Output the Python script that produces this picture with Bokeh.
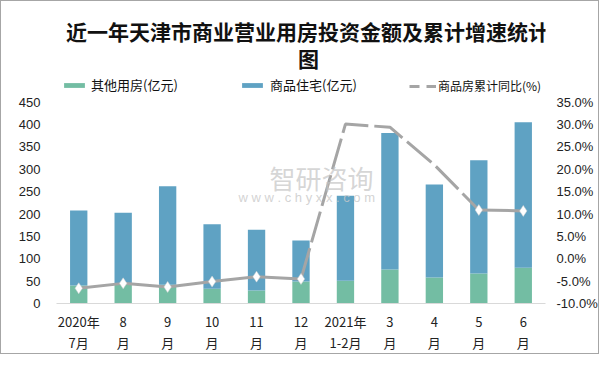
from bokeh.plotting import figure
from bokeh.models import (ColumnDataSource, Range1d, LinearAxis, Label, Legend, LegendItem,
                          PrintfTickFormatter, FixedTicker)
from bokeh.embed import file_html
from bokeh.resources import INLINE

# ---- data ----
categories = ["2020年\n7月", "8\n月", "9\n月", "10\n月", "11\n月", "12\n月",
              "2021年\n1-2月", "3\n月", "4\n月", "5\n月", "6\n月"]
other_use = [40, 45, 42, 33, 29, 49, 51, 76, 58, 67, 80]          # 其他用房(亿元)
housing = [168, 158, 220, 144, 136, 92, 190, 305, 208, 253, 325]  # 商品住宅(亿元)
yoy_pct = [-6.6, -5.5, -6.3, -5.1, -4.0, -4.5, 30.1, 29.4, 21.0, 10.9, 10.7]  # 商品房累计同比(%)
left_ticks = [0, 50, 100, 150, 200, 250, 300, 350, 400, 450]
right_ticks = [-10, -5, 0, 5, 10, 15, 20, 25, 30, 35]

GREEN = "#73BDA3"
BLUE = "#5FA2C3"
GREY = "#A5A5A5"
FONT = "Liberation Sans"
CJK = "Noto Sans CJK SC"

# frame spans from the canvas top to the x axis so that title/legend live inside it
FRAME_H = 303          # px, canvas top to x axis
AXIS_SPAN = 202        # px between lowest and highest tick
left_top = left_ticks[0] + (left_ticks[-1] - left_ticks[0]) * FRAME_H / AXIS_SPAN
right_top = right_ticks[0] + (right_ticks[-1] - right_ticks[0]) * FRAME_H / AXIS_SPAN

xs = list(range(len(categories)))
src = ColumnDataSource(dict(x=xs, other=other_use, housing=housing, pct=yoy_pct))

p = figure(width=599, height=354, output_backend="svg", toolbar_location=None,
           x_range=Range1d(-0.5, len(categories) - 0.5),
           y_range=Range1d(left_ticks[0], left_top),
           min_border_left=55, min_border_right=40, min_border_top=0, min_border_bottom=51)
p.extra_y_ranges = {"pct": Range1d(right_ticks[0], right_top)}
p.styles = {"border": "1px solid #a6a6a6"}
p.background_fill_color = "white"
p.border_fill_color = "white"
p.outline_line_color = None
p.xgrid.grid_line_color = None
p.ygrid.grid_line_color = None

bars = p.vbar_stack(["other", "housing"], x="x", width=0.39, source=src,
                    color=[GREEN, BLUE], line_color=None)

def sub(idx):
    return ColumnDataSource(dict(x=[xs[i] for i in idx], pct=[yoy_pct[i] for i in idx]))

p.line("x", "pct", source=sub(range(0, 6)), y_range_name="pct", line_color=GREY, line_width=3)
p.line("x", "pct", source=sub(range(5, 10)), y_range_name="pct", line_color=GREY, line_width=3,
       line_dash="32 6")
p.line("x", "pct", source=sub(range(9, 11)), y_range_name="pct", line_color=GREY, line_width=3)
mk = [0, 1, 2, 3, 4, 5, 9, 10]
p.scatter("x", "pct", source=sub(mk), y_range_name="pct", marker="diamond", size=11,
          fill_color="white", line_color="#d0d0d0", line_width=0.5)
# one-point line: draws nothing in the plot, only provides the dashed legend glyph
legend_line = p.line("x", "pct", source=sub([5]), y_range_name="pct",
                     line_color=GREY, line_width=3, line_dash="10 7")

# axes
p.yaxis.ticker = FixedTicker(ticks=left_ticks)
ax_r = LinearAxis(y_range_name="pct", ticker=FixedTicker(ticks=right_ticks),
                  formatter=PrintfTickFormatter(format="%.1f%%"))
p.add_layout(ax_r, "right")
for ax in (p.yaxis[0], ax_r, p.xaxis[0]):
    ax.major_tick_line_color = None
    ax.minor_tick_line_color = None
    ax.major_tick_out = 0
    ax.major_tick_in = 0
    ax.minor_tick_out = 0
    ax.minor_tick_in = 0
for ax in (p.yaxis[0], ax_r):
    ax.axis_line_color = None
    ax.major_label_text_font = FONT
    ax.major_label_text_font_size = "13px"
    ax.major_label_text_color = "#222222"
p.yaxis[0].major_label_standoff = 16
ax_r.major_label_standoff = 11

p.xaxis.ticker = FixedTicker(ticks=xs)
p.xaxis.major_label_overrides = {i: c for i, c in zip(xs, categories)}
p.xaxis.axis_line_color = "#d9d9d9"
p.xaxis.major_label_text_font = CJK
p.xaxis.major_label_text_font_size = "13px"
p.xaxis.major_label_text_color = "#222222"
p.xaxis.major_label_text_line_height = 1.15
p.xaxis.major_label_standoff = 8

# title
p.add_layout(Label(x=251, y=273, x_units="screen", y_units="screen",
                   text="近一年天津市商业营业用房投资金额及累计增速统计",
                   text_font=CJK, text_font_size="21px", text_font_style="bold",
                   text_align="center", text_baseline="middle", text_color="#111111"))
p.add_layout(Label(x=252, y=246, x_units="screen", y_units="screen", text="图",
                   text_font=CJK, text_font_size="21px", text_font_style="bold",
                   text_align="center", text_baseline="middle", text_color="#111111"))

# watermark
p.add_layout(Label(x=213, y=126, x_units="screen", y_units="screen", text="智研咨询",
                   text_font=CJK, text_font_size="26px", text_color="#c4c4c4",
                   text_alpha=0.7, text_align="left", text_baseline="middle"))
p.add_layout(Label(x=182, y=106, x_units="screen", y_units="screen",
                   text="w w w . c h y x x . c o m",
                   text_font=FONT, text_font_size="13px", text_color="#c8c8c8",
                   text_alpha=0.8, text_align="left", text_baseline="middle"))

# legends
def add_legend(label, rend, x, gw, standoff, fs="13px"):
    lg = Legend(items=[LegendItem(label=label, renderers=[rend])], location=(x, 209),
                orientation="horizontal", padding=0, margin=0, spacing=0,
                glyph_width=gw, glyph_height=6, label_height=14, label_standoff=standoff,
                label_text_font=CJK, label_text_font_size=fs, label_text_color="#111111",
                border_line_color=None, background_fill_alpha=0)
    p.add_layout(lg, "center")

add_legend("其他用房(亿元)", bars[0], 5, 26, 4)
add_legend("商品住宅(亿元)", bars[1], 183, 26, 5)
add_legend("商品房累计同比(%)", legend_line, 353, 27, 2, "12px")

open("out.html", "w").write(file_html(p, INLINE))
